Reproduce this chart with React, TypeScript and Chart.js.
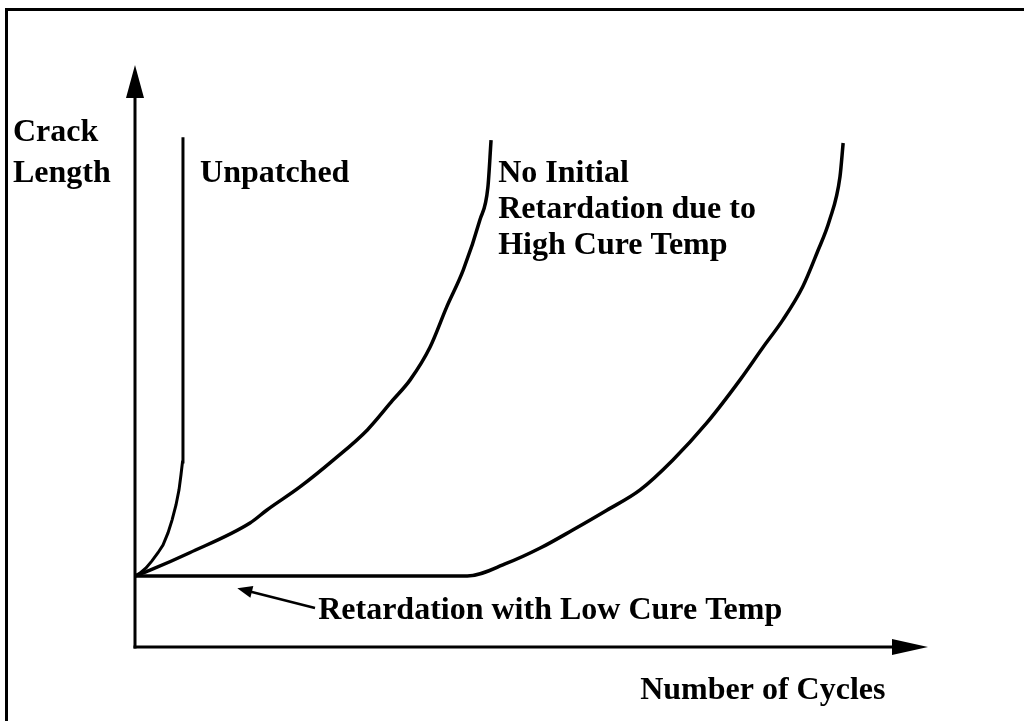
import React, { useEffect, useRef } from "react";
import { Chart, registerables } from "chart.js";

Chart.register(...registerables);

// Crack length (relative units 0-100) versus number of cycles (relative units 0-100)
const unpatchedX = [0, 0.63, 1.39, 2.14, 2.9, 3.53, 4.16, 4.67, 5.17, 5.55, 5.8, 5.99, 6.05, 6.05];
const unpatchedY = [12.2, 12.7, 13.6, 14.8, 16.2, 17.5, 19.6, 21.8, 24.4, 27.0, 29.6, 31.8, 33.0, 87.6];

const highCureX = [0, 1.9, 6.9, 14.5, 16.6, 20.8, 25.0, 29.3, 32.5, 34.7, 37.2, 39.3, 41.4, 43.5, 44.5, 44.9];
const highCureY = [12.2, 13.2, 16.2, 21.3, 23.5, 27.5, 32.1, 37.3, 42.4, 45.9, 51.5, 58.4, 64.8, 73.4, 79.0, 87.1];

const lowCureX = [0, 41.9, 46.9, 51.1, 55.2, 59.5, 63.7, 67.8, 72.1, 76.3, 79.2, 81.7, 84.2, 86.0, 87.6, 88.9, 89.3];
const lowCureY = [12.2, 12.2, 14.4, 17.0, 20.1, 23.5, 27.0, 32.1, 38.5, 45.9, 51.5, 56.2, 61.9, 67.7, 73.4, 80.8, 86.6];

// Text labels in data units (left edge, vertical middle)
const labelTexts = [
  "Crack",
  "Length",
  "Unpatched",
  "No Initial",
  "Retardation due to",
  "High Cure Temp",
  "Retardation with Low Cure Temp",
  "Number of Cycles",
];
const labelX = [-15.4, -15.4, 8.2, 45.8, 45.8, 45.8, 23.1, 63.7];
const labelY = [88.3, 81.4, 81.4, 81.4, 75.2, 68.9, 6.2, -7.6];

// Annotation arrow (tail -> tip) in data units
const annotTail = [22.7, 6.7];
const annotTip = [12.9, 10.1];

const toPoints = (xs: number[], ys: number[]) => xs.map((x, i) => ({ x, y: ys[i] }));

const decorPlugin = {
  id: "decor",
  beforeDraw(chart: any) {
    const ctx = chart.ctx;
    ctx.save();
    ctx.fillStyle = "#ffffff";
    ctx.fillRect(0, 0, chart.width, chart.height);
    ctx.strokeStyle = "#000";
    ctx.lineWidth = 3;
    ctx.beginPath();
    ctx.moveTo(6.5, chart.height);
    ctx.lineTo(6.5, 9.5);
    ctx.lineTo(chart.width, 9.5);
    ctx.stroke();
    ctx.restore();
  },
  afterDraw(chart: any) {
    const ctx = chart.ctx;
    const xs = chart.scales.x;
    const ys = chart.scales.y;
    const x0 = xs.getPixelForValue(0);
    const y0 = ys.getPixelForValue(0);
    const xEnd = xs.getPixelForValue(100);
    const yEnd = ys.getPixelForValue(100);
    ctx.save();
    ctx.strokeStyle = "#000";
    ctx.fillStyle = "#000";
    ctx.lineWidth = 3;
    ctx.lineCap = "butt";
    // y axis
    ctx.beginPath();
    ctx.moveTo(x0, y0 + 1.5);
    ctx.lineTo(x0, yEnd + 20);
    ctx.stroke();
    ctx.beginPath();
    ctx.moveTo(x0, yEnd);
    ctx.lineTo(x0 - 9, yEnd + 33);
    ctx.lineTo(x0 + 9, yEnd + 33);
    ctx.closePath();
    ctx.fill();
    // x axis
    ctx.beginPath();
    ctx.moveTo(x0 - 1.5, y0);
    ctx.lineTo(xEnd - 20, y0);
    ctx.stroke();
    ctx.beginPath();
    ctx.moveTo(xEnd, y0);
    ctx.lineTo(xEnd - 36, y0 - 8);
    ctx.lineTo(xEnd - 36, y0 + 8);
    ctx.closePath();
    ctx.fill();
    // annotation arrow
    const tx = xs.getPixelForValue(annotTail[0]);
    const ty = ys.getPixelForValue(annotTail[1]);
    const px = xs.getPixelForValue(annotTip[0]);
    const py = ys.getPixelForValue(annotTip[1]);
    const ang = Math.atan2(py - ty, px - tx);
    const c = Math.cos(ang);
    const s = Math.sin(ang);
    ctx.lineWidth = 2.5;
    ctx.beginPath();
    ctx.moveTo(tx, ty);
    ctx.lineTo(px - c * 10, py - s * 10);
    ctx.stroke();
    ctx.beginPath();
    ctx.moveTo(px, py);
    ctx.lineTo(px - c * 15 - s * 6, py - s * 15 + c * 6);
    ctx.lineTo(px - c * 15 + s * 6, py - s * 15 - c * 6);
    ctx.closePath();
    ctx.fill();
    // labels
    ctx.font = "bold 32px 'Liberation Serif', 'Times New Roman', serif";
    ctx.textAlign = "left";
    ctx.textBaseline = "middle";
    labelTexts.forEach((t, i) => {
      ctx.fillText(t, xs.getPixelForValue(labelX[i]), ys.getPixelForValue(labelY[i]));
    });
    ctx.restore();
  },
};

export default function App() {
  const ref = useRef<HTMLCanvasElement | null>(null);
  useEffect(() => {
    if (!ref.current) return;
    const chart = new Chart(ref.current, {
      type: "scatter",
      data: {
        datasets: [
          {
            label: "Unpatched",
            data: toPoints(unpatchedX, unpatchedY),
            showLine: true,
            borderColor: "#000",
            borderWidth: 3,
            pointRadius: 0,
            tension: 0,
          },
          {
            label: "No Initial Retardation due to High Cure Temp",
            data: toPoints(highCureX, highCureY),
            showLine: true,
            borderColor: "#000",
            borderWidth: 3.5,
            pointRadius: 0,
            cubicInterpolationMode: "monotone",
          },
          {
            label: "Retardation with Low Cure Temp",
            data: toPoints(lowCureX, lowCureY),
            showLine: true,
            borderColor: "#000",
            borderWidth: 3.5,
            pointRadius: 0,
            cubicInterpolationMode: "monotone",
          },
        ],
      },
      options: {
        responsive: false,
        animation: false,
        devicePixelRatio: 1,
        layout: { padding: { left: 135, right: 96, top: 65, bottom: 74 } },
        plugins: { legend: { display: false }, tooltip: { enabled: false } },
        scales: {
          x: { type: "linear", min: 0, max: 100, display: false },
          y: { type: "linear", min: 0, max: 100, display: false },
        },
      },
      plugins: [decorPlugin],
    } as any);
    return () => chart.destroy();
  }, []);
  return (
    <div style={{ position: "fixed", left: 0, top: 0, width: 1024, height: 721, background: "#fff" }}>
      <canvas ref={ref} width={1024} height={721} style={{ display: "block" }} />
    </div>
  );
}
